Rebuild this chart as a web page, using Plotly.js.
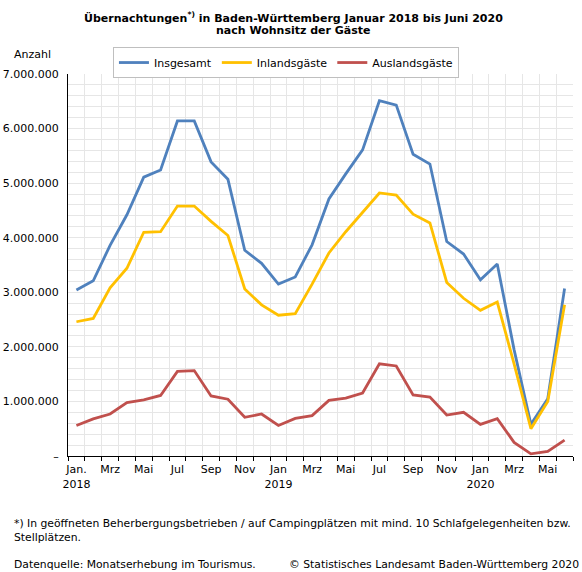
<!DOCTYPE html>
<html>
<head>
<meta charset="utf-8">
<script src="https://cdn.plot.ly/plotly-3.0.1.min.js"></script>
<style>
html,body{margin:0;padding:0;background:#fff;}
#chart{width:582px;height:572px;}
</style>
</head>
<body>
<div id="chart"></div>
<script>
// Monate Januar 2018 bis Juni 2020
var months = ["Jan 2018","Feb 2018","Mrz 2018","Apr 2018","Mai 2018","Jun 2018","Jul 2018","Aug 2018","Sep 2018","Okt 2018","Nov 2018","Dez 2018",
              "Jan 2019","Feb 2019","Mrz 2019","Apr 2019","Mai 2019","Jun 2019","Jul 2019","Aug 2019","Sep 2019","Okt 2019","Nov 2019","Dez 2019",
              "Jan 2020","Feb 2020","Mrz 2020","Apr 2020","Mai 2020","Jun 2020"];
var insgesamt = [3040000,3210000,3860000,4420000,5110000,5240000,6140000,6140000,5390000,5070000,3770000,3530000,
                 3150000,3280000,3870000,4710000,5170000,5610000,6510000,6430000,5530000,5350000,3930000,3700000,
                 3230000,3520000,1950000,580000,1050000,3070000];
var inlandsgaeste = [2460000,2520000,3080000,3440000,4100000,4110000,4580000,4580000,4300000,4040000,3060000,2770000,
                     2580000,2610000,3150000,3720000,4110000,4460000,4820000,4780000,4430000,4270000,3180000,2890000,
                     2670000,2820000,1690000,500000,1000000,2770000];
var auslandsgaeste = [560000,680000,770000,980000,1030000,1110000,1550000,1565000,1100000,1040000,710000,770000,
                      560000,690000,740000,1020000,1060000,1155000,1690000,1650000,1120000,1080000,750000,800000,
                      580000,685000,250000,40000,85000,290000];
var xTickIdx = [0,2,4,6,8,10,12,14,16,18,20,22,24,26,28];
var xTickText = ["Jan.<br>2018","Mrz","Mai","Jul","Sep","Nov","Jan<br>2019","Mrz","Mai","Jul","Sep","Nov","Jan<br>2020","Mrz","Mai"];
var yTickVals = [0,1000000,2000000,3000000,4000000,5000000,6000000,7000000];
var yTickText = ["–","1.000.000","2.000.000","3.000.000","4.000.000","5.000.000","6.000.000","7.000.000"];

var idx = months.map(function(m,i){return i;});
var FONT = "DejaVu Sans, Verdana, sans-serif";
var grid = "#e6e6e6";

function tr(name, y, color){
  return {x: idx, y: y, name: name, type: "scatter", mode: "lines",
          line: {color: color, width: 2.8}, text: months, hoverinfo: "text+y"};
}
var data = [
  tr("Insgesamt", insgesamt, "#4F81BD"),
  tr("Inlandsgäste", inlandsgaeste, "#FFC000"),
  tr("Auslandsgäste", auslandsgaeste, "#C0504D")
];

var layout = {
  width: 582, height: 572,
  margin: {l: 68, r: 9, t: 74, b: 116},
  paper_bgcolor: "#fff", plot_bgcolor: "#fff",
  font: {family: FONT, size: 11, color: "#000"},
  showlegend: true,
  legend: {
    orientation: "h", x: 0.089, xanchor: "left", y: 1.03, yanchor: "middle",
    bordercolor: "#bfbfbf", borderwidth: 1, bgcolor: "#fff",
    font: {family: FONT, size: 11, color: "#000"},
    itemwidth: 30, tracegroupgap: 0
  },
  xaxis: {
    range: [-0.5, 29.5], tickmode: "array", tickvals: xTickIdx, ticktext: xTickText,
    ticks: "", showgrid: false, zeroline: false,
    showline: true, linecolor: "#000", linewidth: 1,
    tickfont: {family: FONT, size: 11, color: "#000"},
    ticklabelstandoff: 3,
    minor: {tick0: -0.5, dtick: 1, ticks: "outside", ticklen: 4, tickcolor: "#000", tickwidth: 1,
            showgrid: true, gridcolor: grid, gridwidth: 1},
    fixedrange: true
  },
  yaxis: {
    range: [0, 7000000], tickmode: "array", tickvals: yTickVals, ticktext: yTickText,
    ticks: "", showgrid: true, gridcolor: grid, gridwidth: 1, zeroline: false,
    showline: true, linecolor: "#000", linewidth: 1,
    tickfont: {family: FONT, size: 11, color: "#000"},
    ticklabelstandoff: 6,
    minor: {tick0: 0, dtick: 200000, showgrid: true, gridcolor: grid, gridwidth: 1, ticks: ""},
    fixedrange: true
  },
  annotations: [
    {text: "<b>Übernachtungen<sup>*)</sup> in Baden-Württemberg Januar 2018 bis Juni 2020</b>",
     xref: "paper", yref: "paper", x: 0.446, y: 1.149, xanchor: "center", yanchor: "middle",
     showarrow: false, font: {family: FONT, size: 11, color: "#000"}},
    {text: "<b>nach Wohnsitz der Gäste</b>",
     xref: "paper", yref: "paper", x: 0.446, y: 1.113, xanchor: "center", yanchor: "middle",
     showarrow: false, font: {family: FONT, size: 11, color: "#000"}},
    {text: "Anzahl", xref: "paper", yref: "paper", x: -0.11, y: 1.05, xanchor: "left", yanchor: "middle",
     showarrow: false, font: {family: FONT, size: 11, color: "#000"}},
    {text: "*) In geöffneten Beherbergungsbetrieben / auf Campingplätzen mit mind. 10 Schlafgelegenheiten bzw.<br>Stellplätzen.",
     xref: "paper", yref: "paper", x: -0.111, y: -0.155, xanchor: "left", yanchor: "top", align: "left",
     showarrow: false, font: {family: FONT, size: 10.8, color: "#000"}},
    {text: "Datenquelle: Monatserhebung im Tourismus.", xref: "paper", yref: "paper", x: -0.111, y: -0.262,
     xanchor: "left", yanchor: "top", showarrow: false, font: {family: FONT, size: 10.8, color: "#000"}},
    {text: "© Statistisches Landesamt Baden-Württemberg 2020", xref: "paper", yref: "paper", x: 1.016, y: -0.263,
     xanchor: "right", yanchor: "top", showarrow: false, font: {family: FONT, size: 10.8, color: "#000"}}
  ]
};

Plotly.newPlot("chart", data, layout, {displayModeBar: false});
</script>
</body>
</html>
